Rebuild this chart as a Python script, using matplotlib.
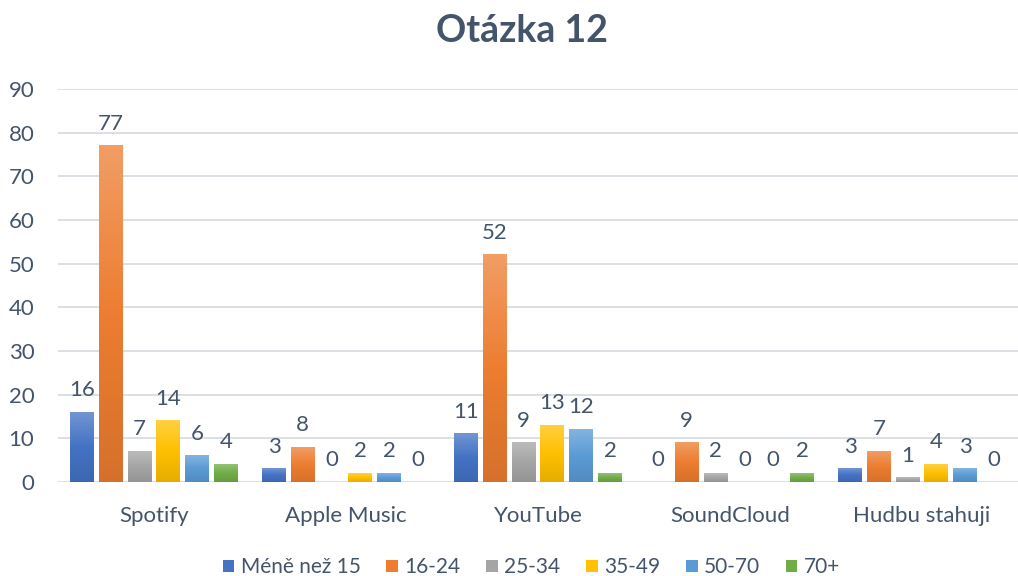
import matplotlib.pyplot as plt
import numpy as np
from matplotlib.colors import LinearSegmentedColormap, to_rgb
from matplotlib.patches import Patch

plt.rcParams['font.family'] = ['Lato', 'DejaVu Sans']

categories = ['Spotify', 'Apple Music', 'YouTube', 'SoundCloud', 'Hudbu stahuji']
groups = ['Méně než 15', '16-24', '25-34', '35-49', '50-70', '70+']
values = {
    'Méně než 15': [16, 3, 11, 0, 3],
    '16-24': [77, 8, 52, 9, 7],
    '25-34': [7, 0, 9, 2, 1],
    '35-49': [14, 2, 13, 0, 4],
    '50-70': [6, 2, 12, 0, 3],
    '70+': [4, 0, 2, 2, 0],
}
colors = ['#4472C4', '#ED7D31', '#A5A5A5', '#FFC000', '#5B9BD5', '#70AD47']
text_col = '#44546A'


def gradient_cmap(c):
    # Excel-like fill: light tint at the top, base in the middle, darker at the bottom
    base = np.array(to_rgb(c))
    light = base + (1 - base) * 0.25
    dark = base * 0.9
    return LinearSegmentedColormap.from_list('g', [dark, base, light])


fig = plt.figure(figsize=(10.18, 5.76), dpi=100)
ax = fig.add_axes([0.057, 0.163, 0.943, 0.6825])

x = np.arange(len(categories))
pitch = 0.15
width = 0.125
grad = np.linspace(0, 1, 256).reshape(-1, 1)

for i, (g, c) in enumerate(zip(groups, colors)):
    cmap = gradient_cmap(c)
    offs = (i - 2.5) * pitch
    for xi, v in zip(x, values[g]):
        x0 = xi + offs - width / 2
        if v > 0:
            ax.imshow(grad, cmap=cmap, origin='lower', aspect='auto',
                      extent=[x0, x0 + width, 0, v], zorder=2, interpolation='bilinear')
        ax.text(xi + offs, v + 2.8, str(v), ha='center', va='bottom',
                fontsize=16, color=text_col)

ax.set_xlim(-0.5, len(categories) - 0.5)
ax.set_ylim(0, 90)
ax.set_yticks(range(0, 91, 10))
ax.set_xticks(x)
ax.set_xticklabels(categories)
ax.tick_params(axis='both', length=0, labelsize=16, labelcolor=text_col)
ax.tick_params(axis='x', pad=17)
ax.tick_params(axis='y', pad=17)
ax.grid(axis='y', color='#D9DDE3', linewidth=1.3, zorder=0)
ax.set_axisbelow(True)
for s in ax.spines.values():
    s.set_visible(False)

fig.suptitle('Otázka 12', x=0.513, y=0.975, fontsize=27, fontweight='bold', color=text_col)

handles = [Patch(facecolor=c, label=g) for g, c in zip(groups, colors)]
fig.legend(handles=handles, loc='lower center', bbox_to_anchor=(0.522, -0.035), ncol=6,
           frameon=False, fontsize=15, labelcolor=text_col, handlelength=0.55,
           handleheight=0.55, handletextpad=0.3, columnspacing=1.25)

fig.savefig('out.png', dpi=100)
